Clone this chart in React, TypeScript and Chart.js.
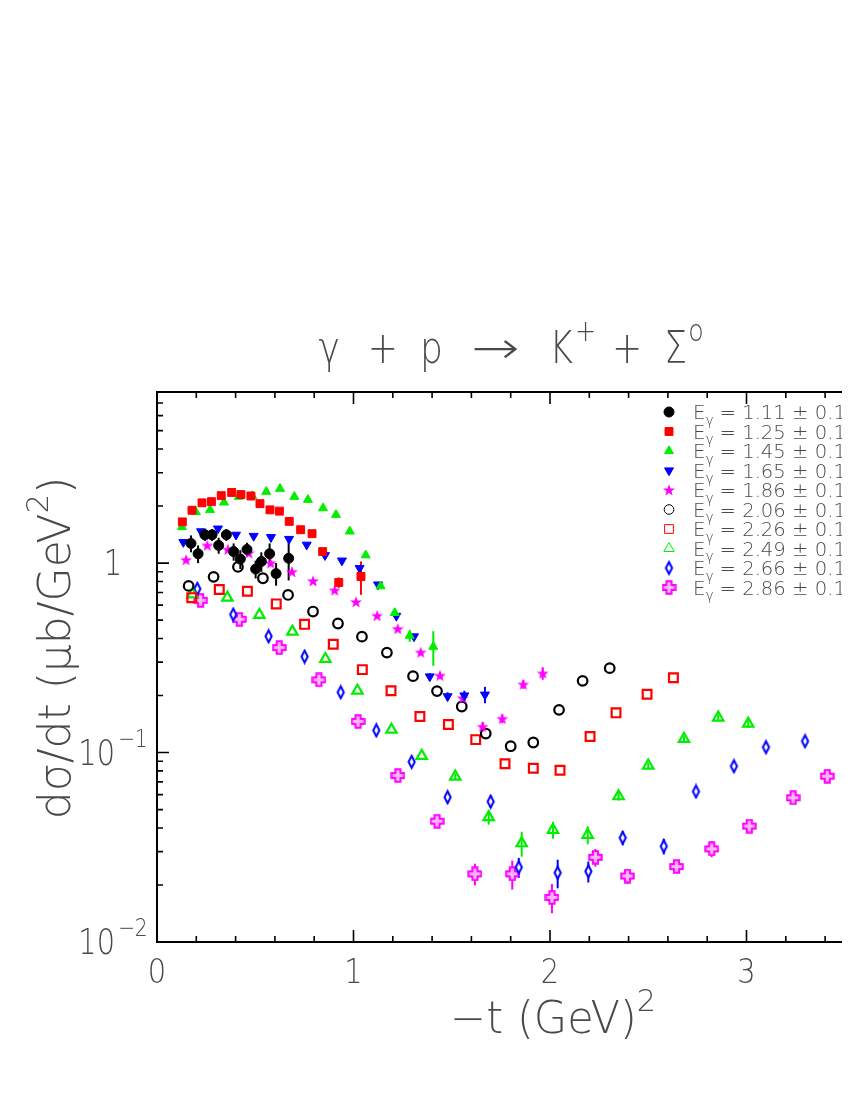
import React, { useEffect, useRef } from 'react';
import { Chart, registerables } from 'chart.js';
import { drawPoint } from 'chart.js/helpers';

Chart.register(...registerables);

// ---------- data ----------
const LABELS = ['1.11', '1.25', '1.45', '1.65', '1.86', '2.06', '2.26', '2.49', '2.66', '2.86'];

const T_111 = [0.173, 0.209, 0.244, 0.280, 0.314, 0.353, 0.390, 0.424, 0.458, 0.502, 0.531, 0.573, 0.606, 0.670];
const XS_111 = [1.27, 1.12, 1.41, 1.41, 1.24, 1.41, 1.15, 1.05, 1.18, 0.93, 1.02, 1.12, 0.88, 1.06];
const ER_111 = [0.13, 0.12, 0.10, 0.10, 0.12, 0.10, 0.12, 0.12, 0.10, 0.10, 0.12, 0.15, 0.12, 0.25];

const T_125 = [0.129, 0.178, 0.229, 0.277, 0.327, 0.380, 0.427, 0.478, 0.524, 0.575, 0.623, 0.673, 0.731, 0.789, 0.843, 0.925, 1.038];
const XS_125 = [1.65, 1.90, 2.08, 2.11, 2.27, 2.36, 2.30, 2.26, 2.06, 1.91, 1.88, 1.66, 1.50, 1.43, 1.15, 0.79, 0.85];
const ER_125 = [0.03, 0.03, 0.03, 0.03, 0.03, 0.03, 0.03, 0.03, 0.03, 0.03, 0.03, 0.03, 0.03, 0.03, 0.04, 0.05, 0.17];

const T_145 = [0.127, 0.198, 0.270, 0.341, 0.416, 0.485, 0.556, 0.626, 0.699, 0.768, 0.845, 0.911, 0.981, 1.062, 1.138, 1.210, 1.286, 1.406];
const XS_145 = [1.55, 1.86, 1.91, 2.09, 2.24, 2.26, 2.38, 2.47, 2.24, 2.16, 1.95, 1.80, 1.47, 1.10, 0.755, 0.546, 0.414, 0.362];
const ER_145 = [0.02, 0.02, 0.02, 0.02, 0.02, 0.02, 0.02, 0.02, 0.02, 0.02, 0.02, 0.02, 0.02, 0.02, 0.02, 0.03, 0.03, 0.075];

const T_165 = [0.134, 0.224, 0.310, 0.402, 0.492, 0.580, 0.672, 0.762, 0.855, 0.941, 1.031, 1.125, 1.218, 1.308, 1.388, 1.479, 1.564, 1.669];
const XS_165 = [1.29, 1.47, 1.52, 1.41, 1.39, 1.37, 1.34, 1.25, 1.10, 1.03, 0.94, 0.77, 0.526, 0.41, 0.252, 0.198, 0.200, 0.202];
const ER_165 = [0.02, 0.02, 0.02, 0.02, 0.02, 0.02, 0.02, 0.02, 0.02, 0.02, 0.02, 0.02, 0.01, 0.01, 0.01, 0.01, 0.012, 0.02];

const T_186 = [0.148, 0.256, 0.361, 0.467, 0.578, 0.687, 0.794, 0.904, 1.013, 1.120, 1.225, 1.342, 1.440, 1.556, 1.657, 1.757, 1.864, 1.963];
const XS_186 = [1.04, 1.24, 1.18, 1.13, 1.00, 0.90, 0.805, 0.719, 0.624, 0.528, 0.450, 0.338, 0.255, 0.194, 0.137, 0.151, 0.229, 0.262];
const ER_186 = [0.02, 0.02, 0.02, 0.02, 0.02, 0.02, 0.01, 0.01, 0.01, 0.01, 0.01, 0.01, 0.01, 0.01, 0.008, 0.008, 0.012, 0.02];

const T_206 = [0.161, 0.288, 0.412, 0.539, 0.667, 0.794, 0.921, 1.043, 1.170, 1.303, 1.425, 1.551, 1.673, 1.800, 1.915, 2.046, 2.166, 2.304];
const XS_206 = [0.758, 0.846, 0.955, 0.832, 0.679, 0.555, 0.480, 0.409, 0.337, 0.253, 0.211, 0.175, 0.126, 0.108, 0.113, 0.168, 0.239, 0.279];

const T_226 = [0.177, 0.317, 0.460, 0.607, 0.751, 0.897, 1.045, 1.191, 1.338, 1.483, 1.622, 1.771, 1.915, 2.051, 2.204, 2.336, 2.494, 2.628];
const XS_226 = [0.657, 0.725, 0.710, 0.609, 0.475, 0.373, 0.274, 0.212, 0.155, 0.1405, 0.117, 0.0872, 0.0826, 0.0807, 0.1215, 0.162, 0.203, 0.248];

const T_249 = [0.180, 0.358, 0.521, 0.689, 0.857, 1.020, 1.193, 1.347, 1.518, 1.688, 1.856, 2.015, 2.192, 2.349, 2.500, 2.682, 2.856, 3.009];
const XS_249 = [0.684, 0.657, 0.533, 0.435, 0.312, 0.212, 0.132, 0.096, 0.0747, 0.0456, 0.0332, 0.0391, 0.0368, 0.0588, 0.0854, 0.118, 0.153, 0.142];
const ER_249 = [0, 0, 0, 0, 0, 0, 0, 0, 0.003, 0.004, 0.005, 0.004, 0.004, 0.003, 0.003, 0.004, 0.006, 0.007];

const T_266 = [0.205, 0.388, 0.568, 0.751, 0.935, 1.116, 1.296, 1.479, 1.698, 1.841, 2.039, 2.195, 2.370, 2.579, 2.743, 2.936, 3.099, 3.298];
const XS_266 = [0.731, 0.535, 0.411, 0.321, 0.208, 0.131, 0.0893, 0.0581, 0.0551, 0.0248, 0.0232, 0.0236, 0.0355, 0.0320, 0.0623, 0.0847, 0.1067, 0.1148];
const ER_266 = [0.02, 0.015, 0.012, 0.01, 0.008, 0.006, 0.005, 0.004, 0.004, 0.003, 0.004, 0.003, 0.003, 0.003, 0.003, 0.004, 0.004, 0.006];

const T_286 = [0.222, 0.419, 0.622, 0.824, 1.023, 1.226, 1.425, 1.618, 1.808, 2.010, 2.231, 2.394, 2.644, 2.823, 3.014, 3.237, 3.411];
const XS_286 = [0.636, 0.505, 0.358, 0.242, 0.146, 0.0756, 0.0434, 0.0229, 0.0229, 0.0172, 0.0280, 0.0223, 0.0250, 0.0310, 0.0409, 0.0577, 0.0750];
const ER_286 = [0.015, 0.012, 0.01, 0.008, 0.005, 0.003, 0.003, 0.003, 0.004, 0.003, 0.003, 0.002, 0.002, 0.003, 0.002, 0.002, 0.003];

const X_MIN = 0;
const X_MAX = 3.6;
const Y_MIN = 0.01;
const Y_MAX = 8;
const X_MAJOR = [0, 1, 2, 3];
const Y_MAJOR = [0.01, 0.1, 1];
const Y_MAJOR_EXP = ['-2', '-1', ''];

const TEXT_COLOR = '#4a4a4a';
const FONT = '"DejaVu Sans"';

// ---------- marker images ----------
function makeCanvas(w: number, h: number) {
  const c = document.createElement('canvas');
  c.width = w;
  c.height = h;
  return c;
}
function starMarker(color: string) {
  const c = makeCanvas(14, 14);
  const g = c.getContext('2d')!;
  g.fillStyle = color;
  g.beginPath();
  for (let i = 0; i < 10; i++) {
    const r = i % 2 === 0 ? 6.2 : 2.6;
    const a = -Math.PI / 2 + (i * Math.PI) / 5;
    const px = 7 + r * Math.cos(a);
    const py = 7.5 + r * Math.sin(a);
    if (i === 0) g.moveTo(px, py);
    else g.lineTo(px, py);
  }
  g.closePath();
  g.fill();
  return c;
}
function diamondMarker(color: string) {
  const c = makeCanvas(11, 16);
  const g = c.getContext('2d')!;
  g.strokeStyle = color;
  g.fillStyle = '#ffffff';
  g.lineWidth = 2;
  g.beginPath();
  g.moveTo(5.5, 2);
  g.lineTo(8.6, 8);
  g.lineTo(5.5, 14);
  g.lineTo(2.4, 8);
  g.closePath();
  g.fill();
  g.stroke();
  return c;
}
function crossMarker(color: string) {
  const c = makeCanvas(15, 15);
  const g = c.getContext('2d')!;
  const a = 2.6;
  const e = 6.2;
  const cx = 7.5;
  const cy = 7.5;
  g.strokeStyle = color;
  g.fillStyle = '#ffb8ff';
  g.lineWidth = 2;
  g.beginPath();
  g.moveTo(cx - a, cy - e);
  g.lineTo(cx + a, cy - e);
  g.lineTo(cx + a, cy - a);
  g.lineTo(cx + e, cy - a);
  g.lineTo(cx + e, cy + a);
  g.lineTo(cx + a, cy + a);
  g.lineTo(cx + a, cy + e);
  g.lineTo(cx - a, cy + e);
  g.lineTo(cx - a, cy + a);
  g.lineTo(cx - e, cy + a);
  g.lineTo(cx - e, cy - a);
  g.lineTo(cx - a, cy - a);
  g.closePath();
  g.fill();
  g.stroke();
  return c;
}

// ---------- text helpers ----------
type Part = { t?: string; sup?: boolean; sub?: boolean; gap?: number; sx?: number };
function partSize(size: number, p: Part) {
  return p.sup || p.sub ? size * 0.7 : size;
}
function richWidth(ctx: CanvasRenderingContext2D, parts: Part[], size: number, comp: number) {
  let w = 0;
  for (const p of parts) {
    if (p.gap !== undefined) {
      w += p.gap;
      continue;
    }
    ctx.font = `200 ${partSize(size, p)}px ${FONT}`;
    w += ctx.measureText(p.t || '').width * comp * (p.sx || 1);
  }
  return w;
}
function drawRich(
  ctx: CanvasRenderingContext2D,
  parts: Part[],
  x: number,
  y: number,
  size: number,
  align: 'left' | 'center',
  comp: number
) {
  const total = richWidth(ctx, parts, size, comp);
  let cx = align === 'center' ? x - total / 2 : x;
  ctx.save();
  ctx.fillStyle = TEXT_COLOR;
  ctx.textBaseline = 'alphabetic';
  ctx.textAlign = 'left';
  for (const p of parts) {
    if (p.gap !== undefined) {
      cx += p.gap;
      continue;
    }
    const s = partSize(size, p);
    ctx.font = `200 ${s}px ${FONT}`;
    const sx = comp * (p.sx || 1);
    const w = ctx.measureText(p.t || '').width * sx;
    const dy = p.sup ? -size * 0.5 : p.sub ? size * 0.28 : 0;
    ctx.save();
    ctx.translate(cx, y + dy);
    ctx.scale(sx, 1);
    ctx.fillText(p.t || '', 0, 0);
    ctx.restore();
    cx += w;
  }
  ctx.restore();
}

const framePlugin = {
  id: 'paw-frame',
  beforeDatasetsDraw(chart: any) {
    const ctx = chart.ctx as CanvasRenderingContext2D;
    const ys = chart.scales.y;
    ctx.save();
    ctx.lineWidth = 2;
    chart.data.datasets.forEach((ds: any, i: number) => {
      const meta = chart.getDatasetMeta(i);
      const errs: number[] = ds.errs || [];
      ctx.strokeStyle = ds.barColor;
      meta.data.forEach((pt: any, j: number) => {
        const e = errs[j];
        if (!e) return;
        const v = ds.data[j].y;
        const top = ys.getPixelForValue(v + e);
        const bot = ys.getPixelForValue(Math.max(v - e, Y_MIN * 0.5));
        ctx.beginPath();
        ctx.moveTo(pt.x, top);
        ctx.lineTo(pt.x, bot);
        ctx.stroke();
      });
    });
    ctx.restore();
  },
  afterDraw(chart: any) {
    const ctx = chart.ctx as CanvasRenderingContext2D;
    const a = chart.chartArea;
    const xs = chart.scales.x;
    const ys = chart.scales.y;
    ctx.save();
    ctx.strokeStyle = '#000';
    ctx.lineWidth = 2;
    ctx.strokeRect(a.left, a.top, a.right - a.left, a.bottom - a.top);

    // x ticks (bottom and top, inward)
    ctx.lineWidth = 1.6;
    for (let k = 0; k <= Math.round((X_MAX - X_MIN) / 0.2); k++) {
      const v = X_MIN + k * 0.2;
      const major = Math.abs(v - Math.round(v)) < 1e-6;
      const px = xs.getPixelForValue(v);
      const len = major ? 12 : 6;
      ctx.beginPath();
      ctx.moveTo(px, a.bottom);
      ctx.lineTo(px, a.bottom - len);
      ctx.moveTo(px, a.top);
      ctx.lineTo(px, a.top + len);
      ctx.stroke();
    }
    // y ticks (left and right, inward), log
    for (let d = -2; d <= 0; d++) {
      for (let m = 1; m <= 9; m++) {
        const v = m * Math.pow(10, d);
        if (v < Y_MIN - 1e-9 || v > Y_MAX + 1e-9) continue;
        const py = ys.getPixelForValue(v);
        const len = m === 1 ? 12 : 6;
        ctx.beginPath();
        ctx.moveTo(a.left, py);
        ctx.lineTo(a.left + len, py);
        ctx.moveTo(a.right, py);
        ctx.lineTo(a.right - len, py);
        ctx.stroke();
      }
    }
    ctx.restore();

    // x tick labels
    X_MAJOR.forEach((v) => {
      drawRich(ctx, [{ t: String(v) }], xs.getPixelForValue(v), a.bottom + 41, 34, 'center', 0.85);
    });
    // y tick labels
    Y_MAJOR.forEach((v, i) => {
      const exp = Y_MAJOR_EXP[i];
      const parts: Part[] = exp ? [{ t: '10' }, { gap: 3 }, { t: exp.replace('-', '\u2212'), sup: true }] : [{ t: '1' }];
      drawRich(ctx, parts, a.left - 44, ys.getPixelForValue(v) + 12, 36, 'center', 0.8);
    });

    // x axis title
    drawRich(ctx, [{ t: '\u2212t' }, { gap: 14 }, { t: '(GeV)' }, { t: '2', sup: true }], a.left + 396, a.bottom + 91, 44, 'center', 0.98);

    // y axis title (rotated)
    ctx.save();
    ctx.translate(a.left - 87, a.top + 256);
    ctx.rotate(-Math.PI / 2);
    drawRich(ctx, [{ t: 'd\u03c3/dt (\u03bcb/GeV' }, { t: '2', sup: true }, { t: ')' }], 0, 0, 44, 'center', 1.0);
    ctx.restore();

    // title
    drawRich(
      ctx,
      [
        { t: '\u03b3' }, { gap: 28 }, { t: '+' }, { gap: 22 }, { t: 'p' }, { gap: 28 },
        { t: '\u2192', sx: 1.6 }, { gap: 30 }, { t: 'K' }, { gap: 2 }, { t: '+', sup: true }, { gap: 16 },
        { t: '+' }, { gap: 22 }, { t: '\u03a3' }, { gap: 1 }, { t: 'o', sup: true },
      ],
      a.left + 354,
      a.top - 29,
      44,
      'center',
      0.82
    );

    // legend
    chart.data.datasets.forEach((ds: any, i: number) => {
      const ly = a.top + 20 + i * 19.5;
      const lx = a.left + 512;
      ctx.save();
      ctx.fillStyle = ds.pointBackgroundColor;
      ctx.strokeStyle = ds.pointBorderColor;
      drawPoint(ctx, {
        pointStyle: ds.pointStyle,
        rotation: ds.pointRotation || 0,
        radius: ds.pointRadius,
        borderWidth: ds.pointBorderWidth,
      } as any, lx, ly);
      ctx.restore();
      drawRich(
        ctx,
        [{ t: 'E' }, { t: '\u03b3', sub: true }, { gap: 6 }, { t: '= ' + LABELS[i] + ' \u00b1 0.1' }],
        a.left + 536,
        ly + 7,
        20,
        'left',
        0.98
      );
    });
  },
};

function mk(t: number[], v: number[]) {
  return t.map((x, i) => ({ x, y: v[i] }));
}

export default function App() {
  const ref = useRef<HTMLCanvasElement | null>(null);
  useEffect(() => {
    if (!ref.current) return;
    const RED = '#ff0000';
    const GREEN = '#00ee00';
    const BLUE = '#0000ff';
    const MAG = '#ff00ff';
    const datasets: any[] = [
      { data: mk(T_111, XS_111), errs: ER_111, barColor: '#000', pointStyle: 'circle', pointRadius: 5, pointBorderWidth: 1, pointBackgroundColor: '#000', pointBorderColor: '#000' },
      { data: mk(T_125, XS_125), errs: ER_125, barColor: RED, pointStyle: 'rect', pointRadius: 5.6, pointBorderWidth: 1, pointBackgroundColor: RED, pointBorderColor: RED },
      { data: mk(T_145, XS_145), errs: ER_145, barColor: GREEN, pointStyle: 'triangle', pointRadius: 5.2, pointBorderWidth: 1, pointBackgroundColor: GREEN, pointBorderColor: GREEN },
      { data: mk(T_165, XS_165), errs: ER_165, barColor: BLUE, pointStyle: 'triangle', pointRotation: 180, pointRadius: 5.2, pointBorderWidth: 1, pointBackgroundColor: BLUE, pointBorderColor: BLUE },
      { data: mk(T_186, XS_186), errs: ER_186, barColor: MAG, pointStyle: starMarker(MAG), pointRadius: 6, pointBorderWidth: 0, pointBackgroundColor: MAG, pointBorderColor: MAG },
      { data: mk(T_206, XS_206), errs: [], barColor: '#000', pointStyle: 'circle', pointRadius: 4.8, pointBorderWidth: 2.2, pointBackgroundColor: 'rgba(255,255,255,0)', pointBorderColor: '#000' },
      { data: mk(T_226, XS_226), errs: [], barColor: RED, pointStyle: 'rect', pointRadius: 6.2, pointBorderWidth: 2.2, pointBackgroundColor: 'rgba(255,255,255,0)', pointBorderColor: RED },
      { data: mk(T_249, XS_249), errs: ER_249, barColor: GREEN, pointStyle: 'triangle', pointRadius: 6, pointBorderWidth: 2.2, pointBackgroundColor: 'rgba(255,255,255,0)', pointBorderColor: GREEN },
      { data: mk(T_266, XS_266), errs: ER_266, barColor: BLUE, pointStyle: diamondMarker(BLUE), pointRadius: 6, pointBorderWidth: 0, pointBackgroundColor: BLUE, pointBorderColor: BLUE },
      { data: mk(T_286, XS_286), errs: ER_286, barColor: MAG, pointStyle: crossMarker(MAG), pointRadius: 6, pointBorderWidth: 0, pointBackgroundColor: MAG, pointBorderColor: MAG },
    ];
    datasets.forEach((d, i) => {
      d.label = 'E\u03b3 = ' + LABELS[i] + ' \u00b1 0.1';
      d.showLine = false;
      d.pointHoverRadius = d.pointRadius;
    });
    const chart = new Chart(ref.current, {
      type: 'scatter',
      data: { datasets },
      options: {
        animation: false,
        responsive: false,
        devicePixelRatio: 1,
        layout: { padding: { left: 149, top: 384, right: 43.6, bottom: 146 } },
        plugins: { legend: { display: false }, tooltip: { enabled: false }, title: { display: false } },
        scales: {
          x: { type: 'linear', display: false, min: X_MIN, max: X_MAX },
          y: { type: 'logarithmic', display: false, min: Y_MIN, max: Y_MAX },
        },
      },
      plugins: [framePlugin],
    });
    return () => chart.destroy();
  }, []);
  return (
    <div style={{ width: 842, overflow: 'hidden' }}>
      <canvas ref={ref} width={900} height={1080} style={{ display: 'block', width: 900, height: 1080 }} />
    </div>
  );
}
